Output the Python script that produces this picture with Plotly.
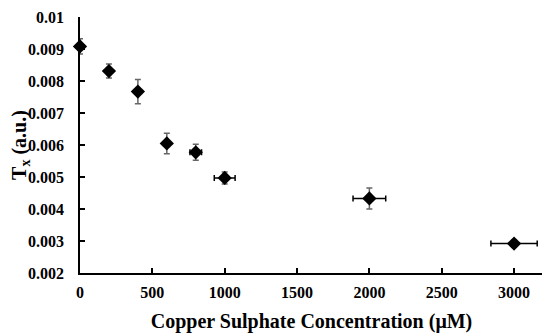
import plotly.graph_objects as go

conc = [0, 200, 400, 600, 800, 1000, 2000, 3000]
tx = [0.00908, 0.00831, 0.00767, 0.00605, 0.00577, 0.00497, 0.00433, 0.00292]
tx_err = [0.00024, 0.00022, 0.00038, 0.00032, 0.00025, 0.00019, 0.00033, 0.00011]
conc_err = [0, 0, 0, 0, 40, 72, 113, 160]

y_ticks = [0.002, 0.003, 0.004, 0.005, 0.006, 0.007, 0.008, 0.009, 0.01]
y_tick_text = ["0.002", "0.003", "0.004", "0.005", "0.006", "0.007", "0.008", "0.009", "0.01"]
x_ticks = [0, 500, 1000, 1500, 2000, 2500, 3000]

font = "Liberation Serif, Times New Roman, serif"

fig = go.Figure()
fig.add_trace(go.Scatter(
    x=conc, y=tx, mode="markers",
    marker=dict(symbol="diamond", size=11, color="black"),
    error_x=dict(type="data", array=conc_err, color="black", thickness=1.5, width=3),
    error_y=dict(type="data", array=tx_err, color="#666666", thickness=1.5, width=3),
    showlegend=False, cliponaxis=False,
))

fig.update_layout(
    width=550, height=336,
    margin=dict(l=72, r=15, t=9, b=71, autoexpand=False),
    paper_bgcolor="white", plot_bgcolor="white",
    font=dict(family=font, color="black"),
    xaxis=dict(
        range=[0, 3200], tickvals=x_ticks, ticks="inside", ticklen=5, tickwidth=1.5,
        tickcolor="black", showline=True, linecolor="black", linewidth=1.5,
        showgrid=False, zeroline=False, automargin=False, ticklabelstandoff=4,
        ticklabeloverflow="allow",
        tickfont=dict(family=font, size=16, color="black", weight="bold"),
        title=dict(text="<b>Copper Sulphate Concentration (μM)</b>",
                   font=dict(family=font, size=20, color="black"), standoff=14),
    ),
    yaxis=dict(
        range=[0.002, 0.01], tickvals=y_ticks, ticktext=y_tick_text,
        ticks="inside", ticklen=5, tickwidth=1.5, tickcolor="black",
        showline=True, linecolor="black", linewidth=1.5,
        showgrid=False, zeroline=False, ticklabelstandoff=11, automargin=False,
        ticklabeloverflow="allow",
        tickfont=dict(family=font, size=16, color="black", weight="bold"),
        title=dict(text="<b>T<sub>x</sub> (a.u.)</b>",
                   font=dict(family=font, size=20, color="black"), standoff=4),
    ),
)

fig.write_html("out.html")
